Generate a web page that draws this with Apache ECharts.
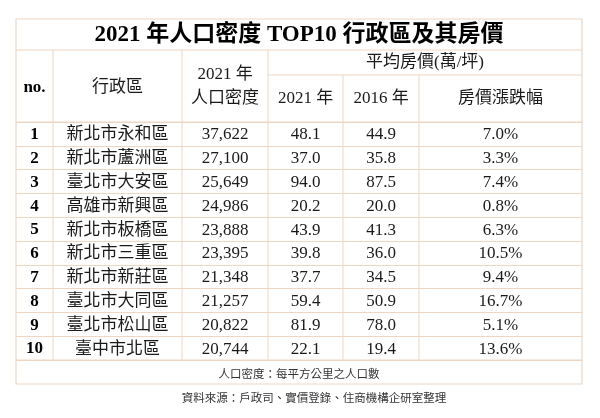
<!DOCTYPE html>
<html>
<head>
<meta charset="utf-8">
<script src="https://cdn.jsdelivr.net/npm/echarts@6/dist/echarts.min.js"></script>
<style>
  html, body { margin: 0; padding: 0; background: #fff; }
  #chart { width: 600px; height: 418px; }
</style>
</head>
<body>
<div id="chart"></div>
<script>
// 2021 年人口密度 TOP10 行政區及其房價 — 表格

const ranks = ["1", "2", "3", "4", "5", "6", "7", "8", "9", "10"];
const districts = [
  "新北市永和區", "新北市蘆洲區", "臺北市大安區", "高雄市新興區", "新北市板橋區",
  "新北市三重區", "新北市新莊區", "臺北市大同區", "臺北市松山區", "臺中市北區",
];
const density2021 = [37622, 27100, 25649, 24986, 23888, 23395, 21348, 21257, 20822, 20744];
const price2021 = [48.1, 37.0, 94.0, 20.2, 43.9, 39.8, 37.7, 59.4, 81.9, 22.1];
const price2016 = [44.9, 35.8, 87.5, 20.0, 41.3, 36.0, 34.5, 50.9, 78.0, 19.4];
const priceChange = [7.0, 3.3, 7.4, 0.8, 6.3, 10.5, 9.4, 16.7, 5.1, 13.6];

const titleText = "2021 年人口密度 TOP10 行政區及其房價";
const headGroup = "平均房價(萬/坪)";
const headCols = ["no.", "行政區", "2021 年\n人口密度", "2021 年", "2016 年", "房價漲跌幅"];
const noteText = "人口密度：每平方公里之人口數";
const sourceText = "資料來源：戶政司、實價登錄、住商機構企研室整理";

// 版面
const LINE = "#efd6c3";
const FONT = '"Liberation Serif", "Noto Sans CJK TC", serif';
const LEFT = 16, RIGHT = 582, TOP = 19, TITLE_B = 50, SUB_Y = 75, HEAD_B = 122, BODY_B = 360, BOTTOM = 384;
const colEdges = [16, 53, 182, 268, 343, 419, 582];
const colMid = colEdges.slice(0, -1).map((e, i) => (e + colEdges[i + 1]) / 2);

const cellText = (c, r) => {
  switch (c) {
    case 0: return ranks[r];
    case 1: return districts[r];
    case 2: return density2021[r].toLocaleString("en-US");
    case 3: return price2021[r].toFixed(1);
    case 4: return price2016[r].toFixed(1);
    default: return priceChange[r].toFixed(1) + "%";
  }
};

const cells = [];
ranks.forEach((_, r) => {
  for (let c = 0; c < 6; c++) cells.push({ value: [colMid[c] - LEFT, r], text: cellText(c, r), col: c });
});

const txt = (x, y, text, extra) => ({
  type: "text", x, y, silent: true,
  style: Object.assign({ text, align: "center", verticalAlign: "middle", fontFamily: FONT, fontSize: 17, fill: "#1a1a1a" }, extra),
});
const ln = (x1, y1, x2, y2) => ({
  type: "line", silent: true, shape: { x1, y1, x2, y2 }, style: { stroke: LINE, lineWidth: 1 },
});

const graphics = [
  { type: "rect", silent: true, shape: { x: LEFT, y: TOP, width: RIGHT - LEFT, height: BOTTOM - TOP },
    style: { fill: "none", stroke: LINE, lineWidth: 1.2 } },
  ln(LEFT, TITLE_B, RIGHT, TITLE_B),
  ln(colEdges[3], SUB_Y, RIGHT, SUB_Y),
  ln(LEFT, HEAD_B, RIGHT, HEAD_B),
  ln(LEFT, BODY_B, RIGHT, BODY_B),
  ln(colEdges[1], TITLE_B, colEdges[1], BODY_B),
  ln(colEdges[2], TITLE_B, colEdges[2], BODY_B),
  ln(colEdges[3], TITLE_B, colEdges[3], BODY_B),
  ln(colEdges[4], SUB_Y, colEdges[4], BODY_B),
  ln(colEdges[5], SUB_Y, colEdges[5], BODY_B),
  txt(299, 35, titleText, { fontSize: 23, fontWeight: "bold", fill: "#000" }),
  txt((colEdges[3] + RIGHT) / 2, 63, headGroup),
  txt(colMid[0], 88, headCols[0], { fontWeight: "bold", fill: "#000" }),
  txt(colMid[1], 88, headCols[1]),
  txt(colMid[2], 87, headCols[2], { lineHeight: 24 }),
  txt(colMid[3], 99, headCols[3]),
  txt(colMid[4], 99, headCols[4]),
  txt(colMid[5], 99, headCols[5]),
  txt(299, 374, noteText, { fontSize: 11.5, fill: "#333", fontFamily: '"Noto Sans CJK TC", sans-serif' }),
  txt(314, 398, sourceText, { fontSize: 11.5, fill: "#333", fontFamily: '"Noto Sans CJK TC", sans-serif' }),
];

const chart = echarts.init(document.getElementById("chart"), null, { renderer: "canvas" });
chart.setOption({
  backgroundColor: "#fff",
  animation: false,
  grid: { left: LEFT, width: RIGHT - LEFT, top: HEAD_B, height: BODY_B - HEAD_B },
  xAxis: { type: "value", min: 0, max: RIGHT - LEFT, show: false },
  yAxis: {
    type: "category", data: ranks, inverse: true,
    axisLine: { show: false }, axisTick: { show: false }, axisLabel: { show: false },
    splitLine: { show: true, lineStyle: { color: LINE, width: 1 } },
  },
  graphic: graphics,
  series: [{
    type: "custom",
    data: cells,
    clip: false,
    renderItem(params, api) {
      const item = cells[params.dataIndex];
      const pt = api.coord([api.value(0), api.value(1)]);
      return {
        type: "text", x: pt[0], y: pt[1] + 1,
        style: {
          text: item.text, align: "center", verticalAlign: "middle",
          fontFamily: FONT, fontSize: 17,
          fontWeight: item.col === 0 ? "bold" : "normal",
          fill: item.col === 0 ? "#000" : "#1a1a1a",
        },
      };
    },
  }],
});
</script>
</body>
</html>
